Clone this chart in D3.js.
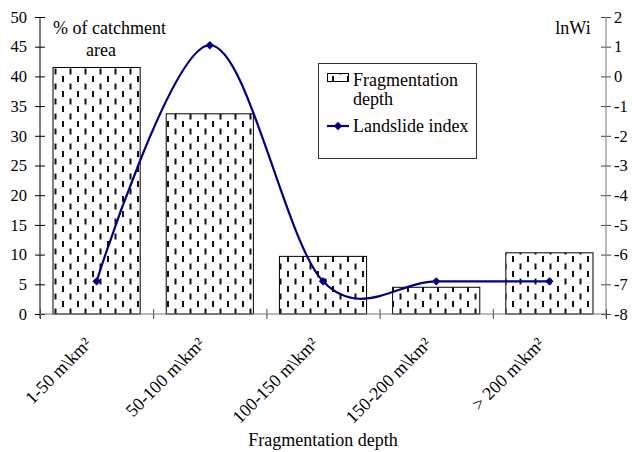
<!DOCTYPE html>
<html>
<head>
<meta charset="utf-8">
<style>
body { margin: 0; background: #fff; }
svg { display: block; font-family: "Liberation Serif", "Times New Roman", serif; }
</style>
</head>
<body>
<svg id="chart" width="632" height="452"></svg>
<script src="https://cdn.jsdelivr.net/npm/d3@7"></script>
<script>
var categories = ["1-50 m\\km\u00b2", "50-100 m\\km\u00b2", "100-150 m\\km\u00b2", "150-200 m\\km\u00b2", "> 200 m\\km\u00b2"];
var areaPct = [41.5, 33.7, 9.7, 4.5, 10.3];
var landslideIndex = [-6.9, 1.05, -6.9, -6.9, -6.9];
var leftTicks = [0, 5, 10, 15, 20, 25, 30, 35, 40, 45, 50];
var rightTicks = [2, 1, 0, -1, -2, -3, -4, -5, -6, -7, -8];

var svg = d3.select("#chart");
var plotL = 40, plotR = 606, plotT = 17, plotB = 314;
var navy = "#000080";
var fs = 18;

// dashed vertical fill, like the old excel pattern
var defs = svg.append("defs");
var pat = defs.append("pattern")
  .attr("id", "dashes")
  .attr("patternUnits", "userSpaceOnUse")
  .attr("width", 15).attr("height", 15);
pat.append("rect").attr("width", 15).attr("height", 15).attr("fill", "#fff");
pat.append("rect").attr("x", 2).attr("y", 1).attr("width", 2).attr("height", 6).attr("fill", "#111");
pat.append("rect").attr("x", 9.5).attr("y", 8.5).attr("width", 2).attr("height", 6).attr("fill", "#111");

var x = d3.scaleBand().domain(categories).range([plotL, plotR])
  .paddingInner(0.23).paddingOuter(0.115);
var xEdge = d3.scaleLinear().domain([0, categories.length]).range([plotL, plotR]);
var yL = d3.scaleLinear().domain([0, 50]).range([plotB, plotT]);
var yR = d3.scaleLinear().domain([-8, 2]).range([plotB, plotT]);

// bars
svg.append("g").selectAll("rect").data(areaPct).join("rect")
  .attr("x", (d, i) => x(categories[i]))
  .attr("y", d => yL(d))
  .attr("width", x.bandwidth())
  .attr("height", d => yL(0) - yL(d))
  .attr("fill", "url(#dashes)")
  .attr("stroke", "#000")
  .attr("stroke-width", 1);

// axes
function crossTicks(g, horiz) {
  g.select(".domain").remove();
  g.selectAll(".tick line").each(function() {
    var l = d3.select(this);
    if (horiz) l.attr("y1", -5).attr("y2", 5);
    else l.attr("x1", -5).attr("x2", 5);
  });
}

var gL = svg.append("g").attr("transform", "translate(" + plotL + ",0)")
  .call(d3.axisLeft(yL).tickValues(leftTicks).tickSize(5).tickPadding(8));
crossTicks(gL, false);
gL.append("line").attr("y1", plotT).attr("y2", plotB + 4).attr("stroke", "#000");
gL.selectAll("text").attr("font-size", 16.5).attr("font-family", "Liberation Serif").attr("fill", "#000");

var gR = svg.append("g").attr("transform", "translate(" + plotR + ",0)")
  .call(d3.axisRight(yR).tickValues(rightTicks).tickSize(5).tickPadding(3).tickFormat(d => String(d)));
crossTicks(gR, false);
gR.append("line").attr("y1", plotT).attr("y2", plotB + 4).attr("stroke", "#777");
gR.selectAll(".tick line").attr("stroke", "#444");
gR.selectAll("text").attr("font-size", 16.5).attr("font-family", "Liberation Serif").attr("fill", "#000");

var gX = svg.append("g").attr("transform", "translate(0," + plotB + ")")
  .call(d3.axisBottom(xEdge).ticks(categories.length).tickFormat(""));
crossTicks(gX, true);
gX.append("line").attr("x1", plotL).attr("x2", plotR).attr("stroke", "#777");
gX.selectAll(".tick line").attr("stroke", "#444");

// category labels, rotated
svg.append("g").selectAll("text").data(categories).join("text")
  .attr("transform", d => "translate(" + (x(d) + x.bandwidth() / 2 - 4) + "," + (plotB + 31) + ") rotate(-45)")
  .attr("text-anchor", "end")
  .attr("font-size", fs)
  .text(d => d);

// landslide index line
var pts = landslideIndex.map((v, i) => [x(categories[i]) + x.bandwidth() / 2, yR(v)]);
svg.append("path")
  .attr("d", d3.line().curve(d3.curveCardinal)(pts))
  .attr("fill", "none")
  .attr("stroke", navy)
  .attr("stroke-width", 2.2);
svg.append("g").selectAll("path").data(pts).join("path")
  .attr("transform", d => "translate(" + d[0] + "," + d[1] + ")")
  .attr("d", d3.symbol(d3.symbolDiamond2, 45)())
  .attr("fill", navy);

// axis titles
svg.append("text").attr("x", 53).attr("y", 34)
  .attr("font-size", fs).text("% of catchment");
svg.append("text").attr("x", 86).attr("y", 56)
  .attr("font-size", fs).text("area");
svg.append("text").attr("x", 573).attr("y", 34).attr("text-anchor", "middle")
  .attr("font-size", fs).text("lnWi");
svg.append("text").attr("x", (plotL + plotR) / 2).attr("y", 446).attr("text-anchor", "middle")
  .attr("font-size", fs).text("Fragmentation depth");

// legend
var lg = svg.append("g");
lg.append("rect").attr("x", 318.5).attr("y", 63.5).attr("width", 158).attr("height", 95)
  .attr("fill", "#fff").attr("stroke", "#333");
lg.append("rect").attr("x", 327.5).attr("y", 73.5).attr("width", 21).attr("height", 8)
  .attr("fill", "url(#dashes)").attr("stroke", "#000");
lg.append("text").attr("x", 353).attr("y", 86).attr("font-size", fs).text("Fragmentation");
lg.append("text").attr("x", 353).attr("y", 105).attr("font-size", fs).text("depth");
lg.append("line").attr("x1", 327).attr("x2", 349).attr("y1", 126).attr("y2", 126)
  .attr("stroke", navy).attr("stroke-width", 2.2);
lg.append("path").attr("transform", "translate(338,126)")
  .attr("d", d3.symbol(d3.symbolDiamond2, 45)()).attr("fill", navy);
lg.append("text").attr("x", 353).attr("y", 132).attr("font-size", fs).text("Landslide index");
</script>
</body>
</html>
